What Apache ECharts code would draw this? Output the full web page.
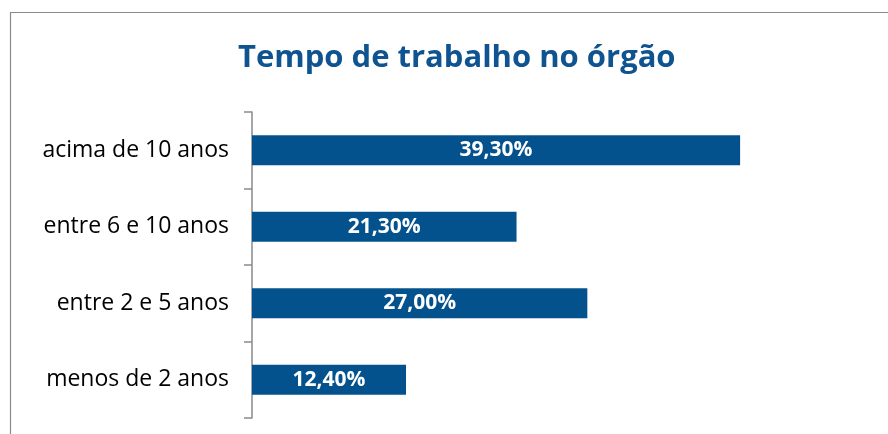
<!DOCTYPE html>
<html>
<head>
<meta charset="utf-8">
<script src="https://cdn.jsdelivr.net/npm/echarts@6/dist/echarts.min.js"></script>
<style>
  html, body { margin: 0; padding: 0; background: #fff; }
  #chart { width: 888px; height: 434px; }
</style>
</head>
<body>
<div id="chart"></div>
<script>
// faixas de tempo, de cima para baixo
const categories = ['acima de 10 anos', 'entre 6 e 10 anos', 'entre 2 e 5 anos', 'menos de 2 anos'];
const percentValues = [39.3, 21.3, 27.0, 12.4];

const chart = echarts.init(document.getElementById('chart'));

const option = {
  animation: false,
  title: {
    text: 'Tempo de trabalho no órgão',
    left: 233,
    top: 38,
    textStyle: {
      fontFamily: 'Open Sans',
      fontWeight: 'bold',
      fontSize: 31,
      color: '#0F5490'
    }
  },
  graphic: [
    {
      type: 'rect',
      shape: { x: 10.5, y: 12.5, width: 900, height: 500 },
      style: { fill: 'none', stroke: '#8a8a8a', lineWidth: 1.2 },
      silent: true
    }
  ],
  grid: {
    left: 252,
    right: 15,
    top: 112,
    bottom: 16
  },
  xAxis: {
    type: 'value',
    min: 0,
    max: 50,
    show: false
  },
  yAxis: {
    type: 'category',
    data: categories,
    inverse: true,
    axisLine: { show: true, lineStyle: { color: '#8a8a8a', width: 1.5 } },
    axisTick: { show: true, length: 8, lineStyle: { color: '#8a8a8a', width: 1.5 } },
    axisLabel: {
      fontFamily: 'Open Sans',
      fontSize: 23,
      color: '#000',
      margin: 23
    }
  },
  series: [
    {
      type: 'bar',
      data: percentValues,
      barWidth: 30,
      itemStyle: { color: '#04528D' },
      label: {
        show: true,
        position: 'inside',
        color: '#fff',
        fontFamily: 'Open Sans',
        fontWeight: 'bold',
        fontSize: 21,
        formatter: p => p.value.toFixed(2).replace('.', ',') + '%'
      }
    }
  ]
};

chart.setOption(option);
</script>
</body>
</html>
